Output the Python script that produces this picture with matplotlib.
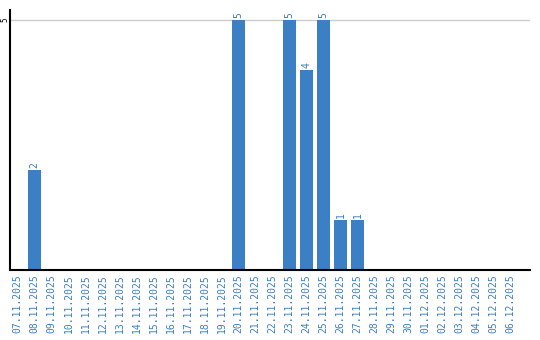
import matplotlib
matplotlib.use("Agg")
import matplotlib.pyplot as plt
import numpy as np

# daily counts, 07.11.2025 .. 06.12.2025
DATES = [
    "07.11.2025", "08.11.2025", "09.11.2025", "10.11.2025", "11.11.2025",
    "12.11.2025", "13.11.2025", "14.11.2025", "15.11.2025", "16.11.2025",
    "17.11.2025", "18.11.2025", "19.11.2025", "20.11.2025", "21.11.2025",
    "22.11.2025", "23.11.2025", "24.11.2025", "25.11.2025", "26.11.2025",
    "27.11.2025", "28.11.2025", "29.11.2025", "30.11.2025", "01.12.2025",
    "02.12.2025", "03.12.2025", "04.12.2025", "05.12.2025", "06.12.2025",
]
COUNTS = [0, 2, 0, 0, 0, 0, 0, 0, 0, 0,
          0, 0, 0, 5, 0, 0, 5, 4, 5, 1,
          1, 0, 0, 0, 0, 0, 0, 0, 0, 0]

BLUE = "#3b7fc4"
FONT = "DejaVu Sans Mono"

fig = plt.figure(figsize=(5.4, 3.4), dpi=100)
ax = fig.add_axes([10 / 540, 70 / 340, 520 / 540, 260 / 340])

x = np.arange(len(DATES))
ax.bar(x, COUNTS, width=0.8, color=BLUE, zorder=2)

for xi, c in zip(x, COUNTS):
    if c > 0:
        ax.text(xi, c + 0.04, str(c), rotation=90, ha="center", va="bottom",
                color=BLUE, fontsize=7, family=FONT)

ax.set_xlim(-0.45, 30.15)
ax.set_ylim(0, 5.2)
ax.set_yticks([5])
ax.set_yticklabels(["5"], rotation=90, va="center", fontsize=5.5, family=FONT)
ax.tick_params(axis="y", length=0, pad=0.5)
ax.yaxis.grid(True, color="#cccccc", linewidth=1, zorder=0)

ax.set_xticks(x)
ax.set_xticklabels(DATES, rotation=90, fontsize=7, family=FONT, color=BLUE)
ax.tick_params(axis="x", length=0, pad=3)

for s in ["top", "right"]:
    ax.spines[s].set_visible(False)
ax.spines["left"].set_linewidth(1.5)
ax.spines["bottom"].set_linewidth(1.5)

fig.savefig("out.png", dpi=100)
